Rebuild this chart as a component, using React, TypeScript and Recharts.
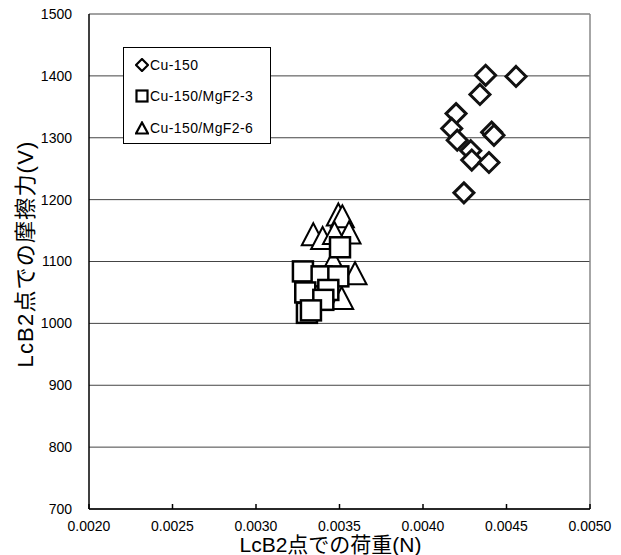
import React from "react";
import {
  ScatterChart,
  Scatter,
  XAxis,
  YAxis,
  CartesianGrid,
  ReferenceLine,
} from "recharts";

// 読み取り値 — LcB2点での荷重 (N) / 摩擦力 (V)
const cu150X = [0.004375, 0.004557, 0.004341, 0.004198, 0.004172, 0.004411, 0.004425, 0.004205, 0.004286, 0.004292, 0.004395, 0.004245];
const cu150Y = [1401, 1399, 1370, 1339, 1315, 1309, 1304, 1296, 1279, 1264, 1260, 1211];

const mgf3X = [0.003503, 0.003281, 0.003393, 0.003493, 0.003433, 0.003295, 0.003403, 0.003305, 0.003329];
const mgf3Y = [1123, 1084, 1076, 1076, 1054, 1050, 1038, 1017, 1021];

const mgf6X = [0.003493, 0.003517, 0.003557, 0.003343, 0.003399, 0.00347, 0.003463, 0.003593, 0.003513];
const mgf6Y = [1176, 1173, 1147, 1144, 1138, 1146, 1100, 1081, 1041];

const xTicks = [0.002, 0.0025, 0.003, 0.0035, 0.004, 0.0045, 0.005];
const yTicks = [700, 800, 900, 1000, 1100, 1200, 1300, 1400, 1500];

const zip = (xs: number[], ys: number[]) => xs.map((x, i) => ({ x, y: ys[i] }));

const latin = '"Liberation Sans", Arial, sans-serif';
const jp = '"Liberation Sans", "Noto Sans CJK JP", sans-serif';

const Diamond = (p: any) => {
  const { cx, cy } = p;
  const r = 10;
  return (
    <path
      d={`M${cx},${cy - r}L${cx + r},${cy}L${cx},${cy + r}L${cx - r},${cy}Z`}
      fill="#fff"
      stroke="#111"
      strokeWidth={3}
    />
  );
};

const Square = (p: any) => (
  <rect x={p.cx - 10} y={p.cy - 10} width={20} height={20} fill="#fff" stroke="#000" strokeWidth={2.5} />
);

const Triangle = (p: any) => {
  const { cx, cy } = p;
  return (
    <path
      d={`M${cx},${cy - 11}L${cx + 11.5},${cy + 11}L${cx - 11.5},${cy + 11}Z`}
      fill="#fff"
      stroke="#000"
      strokeWidth={2}
    />
  );
};

// x 軸: 内向きの目盛り
const XTick = (p: any) => {
  const { x, y, payload } = p;
  return (
    <g>
      <line x1={x} x2={x} y1={y} y2={y - 5} stroke="#000" strokeWidth={1.5} />
      <text x={x} y={y + 22} textAnchor="middle" fontSize={14} fontFamily={latin} fill="#000">
        {Number(payload.value).toFixed(4)}
      </text>
    </g>
  );
};

const legendRows = [
  { name: "Cu-150", mark: "diamond" },
  { name: "Cu-150/MgF2-3", mark: "square" },
  { name: "Cu-150/MgF2-6", mark: "triangle" },
];

const LegendMark = ({ mark }: { mark: string }) => (
  <svg width={14} height={14} style={{ display: "block" }}>
    {mark === "diamond" && <path d="M7,1L13,7L7,13L1,7Z" fill="#fff" stroke="#000" strokeWidth={2.2} />}
    {mark === "square" && <rect x={1.5} y={1.5} width={11} height={11} fill="#fff" stroke="#000" strokeWidth={2.2} />}
    {mark === "triangle" && <path d="M7,1.5L13,12.5L1,12.5Z" fill="#fff" stroke="#000" strokeWidth={2.2} />}
  </svg>
);

export default function App() {
  return (
    <div style={{ position: "absolute", left: 0, top: 0, width: 621, height: 555, background: "#fff" }}>
      <ScatterChart width={621} height={555} margin={{ top: 14, right: 31, bottom: 16, left: 29 }}>
        <CartesianGrid stroke="#444" vertical={false} />
        <XAxis
          type="number"
          dataKey="x"
          domain={[0.002, 0.005]}
          ticks={xTicks}
          interval={0}
          height={30}
          tickSize={0}
          tickMargin={0}
          tickLine={false}
          tick={<XTick />}
          axisLine={{ stroke: "#000", strokeWidth: 1.5 }}
          label={{
            content: (lp: any) => {
              const vb = lp.viewBox;
              return (
                <text x={vb.x + vb.width / 2 - 9} y={552} textAnchor="middle" fontSize={21} fontFamily={jp} fill="#000">
                  LcB2点での荷重(N)
                </text>
              );
            },
          }}
        />
        <YAxis
          type="number"
          dataKey="y"
          domain={[700, 1500]}
          ticks={yTicks}
          interval={0}
          width={60}
          tickSize={0}
          tickMargin={17}
          tickLine={false}
          tick={{ fontSize: 14, fill: "#000", fontFamily: latin }}
          axisLine={{ stroke: "#000", strokeWidth: 1.5 }}
          label={{
            content: () => (
              <text
                x={0}
                y={0}
                transform="translate(33,254) rotate(-90)"
                textAnchor="middle"
                fontSize={22}
                letterSpacing={1.2}
                fontFamily={jp}
                fill="#000"
              >
                LcB2点での摩擦力(V)
              </text>
            ),
          }}
        />
        <ReferenceLine x={0.005} stroke="#888" strokeWidth={1.5} />
        <Scatter name="Cu-150/MgF2-6" data={zip(mgf6X, mgf6Y)} shape={<Triangle />} isAnimationActive={false} />
        <Scatter name="Cu-150/MgF2-3" data={zip(mgf3X, mgf3Y)} shape={<Square />} isAnimationActive={false} />
        <Scatter name="Cu-150" data={zip(cu150X, cu150Y)} shape={<Diamond />} isAnimationActive={false} />
      </ScatterChart>
      <div
        style={{
          position: "absolute",
          left: 123,
          top: 47,
          width: 146,
          height: 95,
          border: "1px solid #000",
          background: "#fff",
          fontFamily: latin,
          fontSize: 14,
          letterSpacing: 0.4,
          color: "#000",
        }}
      >
        {legendRows.map((r, i) => (
          <div
            key={r.name}
            style={{ position: "absolute", left: 11, top: [8, 39, 71][i], display: "flex", alignItems: "center", height: 18 }}
          >
            <LegendMark mark={r.mark} />
            <span style={{ marginLeft: 1 }}>{r.name}</span>
          </div>
        ))}
      </div>
    </div>
  );
}
